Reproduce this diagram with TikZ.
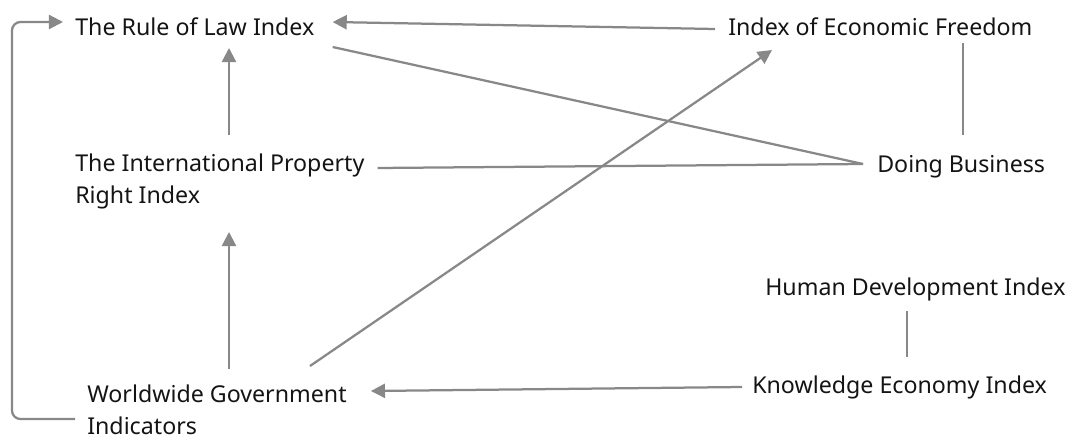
\documentclass[tikz,border=0pt]{standalone}
\usepackage{fontspec}
\setmainfont{Noto Sans}
\definecolor{linkgray}{RGB}{136, 136, 136}
\definecolor{labelink}{RGB}{20, 20, 20}
\usetikzlibrary{arrows.meta, calc}

\begin{document}
\begin{tikzpicture}[x=0.025cm, y=-0.025cm,
    lbl/.style={anchor=base west, inner sep=0pt, text=labelink, font=\fontsize{16.5}{22.5}\selectfont, align=left},
    link/.style={draw=linkgray, line width=1.6pt},
    arr/.style={link, -{Triangle[length=10pt, width=10pt]}}]
  \useasboundingbox (0,0) rectangle (1070,440);

  % Indices
  \node[lbl] (rol) at (75,36) {The Rule of Law Index};
  \node[lbl] (ief) at (728,36) {Index of Economic Freedom};
  \node[lbl] (ipr) at (75,203) {The International Property\\Right Index};
  \node[lbl] (db) at (877,172) {Doing Business};
  \node[lbl] (hdi) at (765,295) {Human Development Index};
  \node[lbl] (kei) at (752,393) {Knowledge Economy Index};
  \node[lbl] (wgi) at (87,434) {Worldwide Government\\Indicators};

  % Arrows
  \draw[arr, rounded corners=6] ([shift={(-12,-15)}]wgi.base west) -- ++(-63,0) |- ([shift={(-12,-14)}]rol.base west);
  \draw[arr] ([shift={(-13,-7)}]ief.base west) -- ([shift={(18,-14)}]rol.base east);
  \draw[arr] ([shift={(154,-68)}]ipr.base west) -- ([shift={(154,12)}]ipr.base west |- rol.base);
  \draw[arr] ([shift={(142,-65)}]wgi.base west) -- ([shift={(154,29)}]ipr.base west);
  \draw[arr] ([shift={(223,-68)}]wgi.base west) -- ([shift={(44,14)}]ief.base west);
  \draw[arr] ([shift={(-10,-6)}]kei.base west) -- ([shift={(24,-43)}]wgi.base east);

  % Plain links
  \draw[link] ([shift={(18,11)}]rol.base east) -- ([shift={(-14,-8)}]db.base west);
  \draw[link] ([shift={(13,-35)}]ipr.base east) -- ([shift={(-14,-8)}]db.base west);
  \draw[link] ([shift={(2,-37)}]db.base) -- ([shift={(2,7)}]db.base |- ief.base);
  \draw[link] ([shift={(142,16)}]hdi.base west) -- ([shift={(155,-36)}]kei.base west);
\end{tikzpicture}
\end{document}
